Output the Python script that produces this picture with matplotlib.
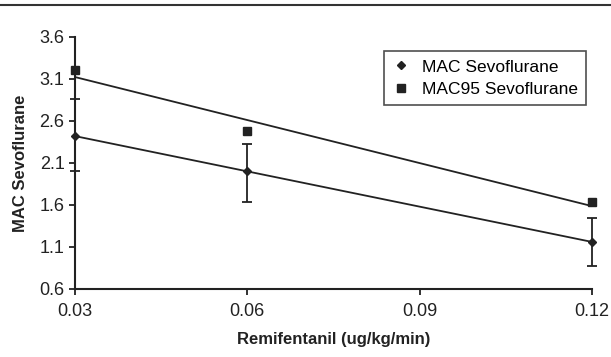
import numpy as np
import matplotlib.pyplot as plt
from matplotlib.lines import Line2D

plt.rcParams['font.family'] = ['Liberation Sans', 'DejaVu Sans']

# remifentanil dose (ug/kg/min)
remi = [0.03, 0.06, 0.12]
# MAC sevoflurane with error bars
mac = [2.42, 2.00, 1.16]
mac_lo = [2.00, 1.64, 0.87]
mac_hi = [2.86, 2.33, 1.45]
# MAC95 sevoflurane
mac95 = [3.21, 2.48, 1.63]

yticks = [0.6, 1.1, 1.6, 2.1, 2.6, 3.1, 3.6]
xticks = [0.03, 0.06, 0.09, 0.12]

fig = plt.figure(figsize=(6.11, 3.57), dpi=100)
ax = fig.add_axes([0.1227, 0.1905, 0.8463, 0.706])

x = np.array(remi)
# linear trend lines
for y in (mac, mac95):
    k, b = np.polyfit(x, y, 1)
    ax.plot(x[[0, -1]], k * x[[0, -1]] + b, color='#222222', lw=1.3, zorder=2)

yerr = [np.array(mac) - np.array(mac_lo), np.array(mac_hi) - np.array(mac)]
ax.errorbar(remi, mac, yerr=yerr, fmt='none', ecolor='#222222', elinewidth=1.3,
            capsize=3.5, capthick=1.3, zorder=3, clip_on=False)
ax.plot(remi, mac, 'D', color='#222222', ms=4, ls='none', label='MAC Sevoflurane',
        zorder=4, clip_on=False)
ax.plot(remi, mac95, 's', color='#222222', ms=6, ls='none', label='MAC95 Sevoflurane',
        zorder=4, clip_on=False)

ax.set_xlim(0.03, 0.12)
ax.set_ylim(0.6, 3.6)
ax.set_xticks(xticks)
ax.set_xticklabels(['0.03', '0.06', '0.09', '0.12'])
ax.set_yticks(yticks)
ax.set_yticklabels([str(v) for v in yticks])
ax.tick_params(labelsize=13, length=4, width=1.3, color='#222222', labelcolor='#222222')
ax.tick_params(axis='x', pad=6)

for s in ('top', 'right'):
    ax.spines[s].set_visible(False)
for s in ('left', 'bottom'):
    ax.spines[s].set_linewidth(1.5)
    ax.spines[s].set_color('#222222')

ax.set_xlabel('Remifentanil (ug/kg/min)', fontsize=12, fontweight='bold', color='#222222', labelpad=9)
ax.set_ylabel('MAC Sevoflurane', fontsize=12, fontweight='bold', color='#222222', labelpad=8)

leg = ax.legend(loc='upper left', bbox_to_anchor=(0.58, 0.98), fontsize=12.5, frameon=True,
                fancybox=False, edgecolor='#222222', handlelength=1.0, handletextpad=0.7,
                borderpad=0.5, labelspacing=0.4, markerscale=0.9)
leg.get_frame().set_linewidth(1.2)

fig.add_artist(Line2D([0, 1], [0.985, 0.985], color='#333333', lw=1.5, transform=fig.transFigure))

fig.savefig('out.png', dpi=100)
